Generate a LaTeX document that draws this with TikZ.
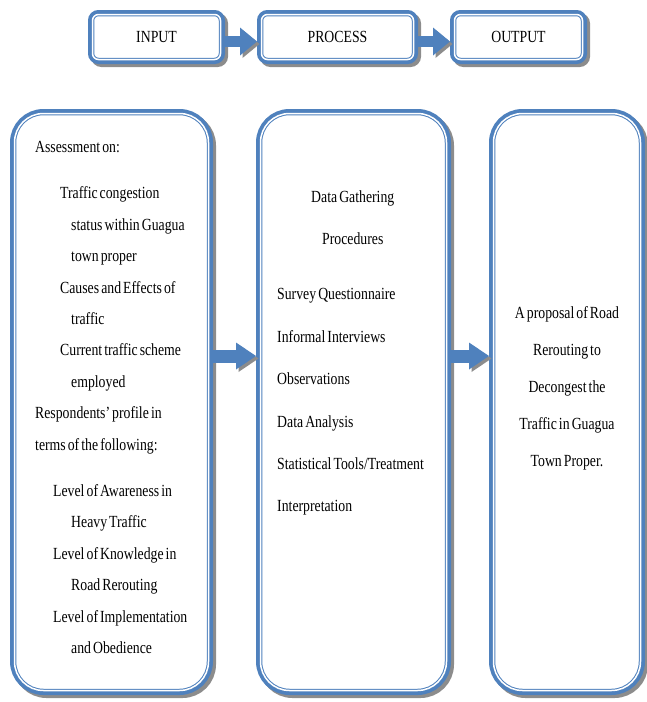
\documentclass[tikz,border=0pt]{standalone}
\usepackage{fontspec}
\setmainfont{Liberation Serif}[FakeStretch=0.81,WordSpace=0.6]
\usetikzlibrary{arrows.meta,positioning}
\definecolor{boxblue}{RGB}{79,129,189}
\definecolor{shadowgray}{RGB}{140,140,140}

\begin{document}
\begin{tikzpicture}[x=1pt,y=-1pt,>={Triangle[length=17pt,width=28pt,line width=0pt]}]
	\tikzset{
		framebox/.style={fill=white,draw=boxblue,line width=1pt,double=white,double distance=1.5pt,
			outer sep=4.5pt,inner sep=0pt,
			preaction={fill=shadowgray,draw=shadowgray,line width=9pt,transform canvas={xshift=3pt,yshift=-3pt}},
			preaction={draw=boxblue,line width=9pt}},
		topbox/.style={framebox,rounded corners=6pt,minimum width=128pt,minimum height=45pt,
			font=\fontsize{17}{20}\selectfont},
		bigbox/.style={framebox,rounded corners=29pt,minimum height=577pt},
		boxtext/.style={inner sep=0pt,anchor=north west,align=left},
		blockarrow/.style={->,draw=boxblue,line width=11pt,
			preaction={draw=shadowgray,transform canvas={xshift=2.5pt,yshift=-2.5pt}}},
		bigarrow/.style={blockarrow,line width=13pt,>={Triangle[length=20pt,width=27pt,line width=0pt]}}
	}
	\useasboundingbox (0,0) rectangle (646,702);

	% top row
	\node[topbox] (input) at (156.5,37) {INPUT};
	\node[topbox,minimum width=152pt] (process) [right=32pt of input] {PROCESS};
	\node[topbox] (output) [right=32pt of process] {OUTPUT};

	% columns
	\node[bigbox,minimum width=194pt] (inbox) at (111.5,402) {};
	\node[bigbox,minimum width=186pt] (procbox) [right=43pt of inbox] {};
	\node[bigbox,minimum width=147pt] (outbox) [right=38pt of procbox] {};

	\node[boxtext,font=\fontsize{17}{31.4}\selectfont] (intext) at ([shift={(25,32)}]inbox.north west)
		{Assessment on:\\[15pt]
		\hspace*{25pt}Traffic congestion\\
		\hspace*{36pt}status within Guagua\\
		\hspace*{36pt}town proper\\
		\hspace*{25pt}Causes and Effects of\\
		\hspace*{36pt}traffic\\
		\hspace*{25pt}Current traffic scheme\\
		\hspace*{36pt}employed\\
		Respondents' profile in\\
		terms of the following:\\[15pt]
		\hspace*{18pt}Level of Awareness in\\
		\hspace*{36pt}Heavy Traffic\\
		\hspace*{18pt}Level of Knowledge in\\
		\hspace*{36pt}Road Rerouting\\
		\hspace*{18pt}Level of Implementation\\
		\hspace*{36pt}and Obedience};
	\node[boxtext,font=\fontsize{17}{42.4}\selectfont] (proctext) at ([shift={(21,81)}]procbox.north west)
		{\hspace*{34pt}Data Gathering\\
		\hspace*{45pt}Procedures\\[13pt]
		Survey Questionnaire\\
		Informal Interviews\\
		Observations\\
		Data Analysis\\
		Statistical Tools/Treatment\\
		Interpretation};
	\node[boxtext,anchor=north,align=center,font=\fontsize{17}{37}\selectfont] (outtext) at ([shift={(0,197)}]outbox.north)
		{A proposal of Road\\
		Rerouting to\\
		Decongest the\\
		Traffic in Guagua\\
		Town Proper.};

	% arrows
	\coordinate (arrowrow) at (0,356);
	\draw[blockarrow] ([yshift=-4.5pt]input.east) -- ([yshift=-4.5pt]process.west);
	\draw[blockarrow] ([yshift=-4.5pt]process.east) -- ([yshift=-4.5pt]output.west);
	\draw[bigarrow] (inbox.east |- arrowrow) -- (procbox.west |- arrowrow);
	\draw[bigarrow] (procbox.east |- arrowrow) -- (outbox.west |- arrowrow);
\end{tikzpicture}
\end{document}
